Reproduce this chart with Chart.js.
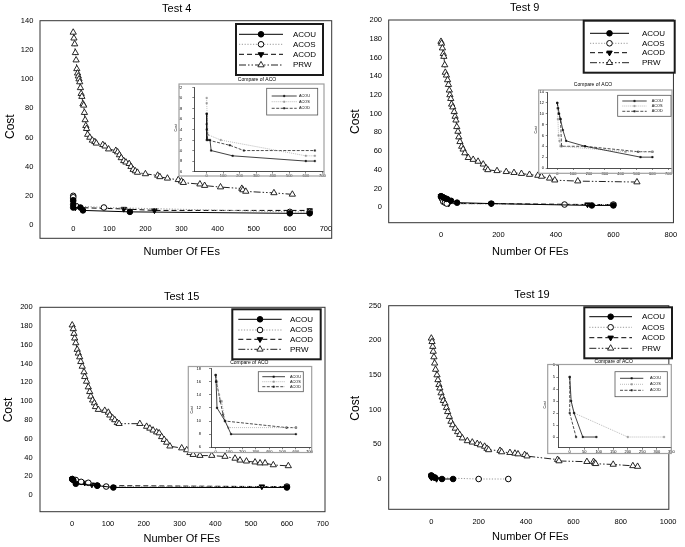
<!DOCTYPE html>
<html><head><meta charset="utf-8">
<script src="https://cdn.jsdelivr.net/npm/chart.js@4.4.0/dist/chart.umd.min.js"></script>
<style>
html,body{margin:0;padding:0;background:#fff}
body{width:685px;height:547px;position:relative;overflow:hidden}
canvas{position:absolute}
</style></head><body>
<canvas id="m4"></canvas><canvas id="m9"></canvas><canvas id="m15"></canvas><canvas id="m19"></canvas>
<canvas id="i4"></canvas><canvas id="i9"></canvas><canvas id="i15"></canvas><canvas id="i19"></canvas>
<script>
// ---------------- DATA ----------------
const seriesNames = ['ACOU','ACOS','ACOD','PRW'];

// Test 4
const prw4 = [[0,132],[2,128],[4,124],[6,118],[8,113],[10,107],[12,104],[14,102],[16,100],[18,98],[20,94],[22,90],[24,88],[27,83],[29,82],[31,77],[33,72],[35,68],[37,66],[40,62],[46,60],[53,58],[60,57],[64,56],[82,55],[88,54],[98,52],[118,51],[123,50],[128,48],[133,46],[140,44],[146,43],[155,42],[160,40],[166,38],[172,37],[178,36],[200,35],[234,34],[240,33],[261,32],[291,31],[300,30],[305,29],[351,28],[364,27],[408,26],[467,25],[470,24],[478,23],[556,22],[607,21]];
const acou4 = [[0,17],[0,14],[0,12],[20,12],[27,10],[157,9],[600,8],[655,8]];
const acos4 = [[0,20],[0,19],[8,13],[85,12],[600,9],[655,9]];
const acod4 = [[0,17],[0,15],[6,12],[140,11],[225,10],[655,10]];

// Test 9
const prw9 = [[0,177],[2,175],[5,170],[8,164],[10,161],[13,152],[15,144],[19,141],[23,136],[26,131],[29,125],[31,120],[34,116],[37,110],[41,107],[46,102],[49,97],[52,93],[55,86],[59,81],[62,75],[66,70],[72,65],[77,62],[83,58],[95,53],[112,51],[129,49],[147,46],[157,42],[163,40],[195,39],[227,38],[254,37],[280,36],[308,35],[337,34],[350,33],[378,31],[396,29],[476,28],[682,27]];
const acou9 = [[0,12],[6,11],[12,10],[20,9],[35,7],[56,5],[175,4],[525,2],[600,2]];
const acos9 = [[0,11],[4,9],[8,6],[14,5],[20,4],[430,3],[600,3]];
const acod9 = [[0,12],[8,10],[20,9],[27,4],[175,4],[510,3],[600,3]];

// Test 15
const prw15 = [[0,181],[3,177],[5,172],[7,167],[10,162],[14,155],[17,151],[21,147],[24,142],[28,137],[33,131],[35,126],[40,121],[45,115],[49,110],[52,105],[57,101],[62,98],[65,94],[73,91],[91,90],[101,88],[105,85],[113,82],[119,80],[126,77],[131,76],[189,76],[208,73],[217,71],[226,69],[236,67],[243,66],[250,62],[257,59],[264,56],[273,52],[306,50],[320,48],[329,45],[338,43],[357,42],[390,42],[427,41],[455,39],[469,37],[487,36],[511,35],[525,34],[539,34],[562,32],[604,31]];
const acou15 = [[0,17],[3,16],[10,12],[70,10],[115,8],[600,8]];
const acos15 = [[0,17],[10,16],[25,14],[45,13],[70,10],[95,9],[600,9]];
const acod15 = [[0,17],[5,16],[35,13],[55,11],[70,10],[530,9],[600,9]];

// Test 19
const prw19 = [[0,203],[3,198],[6,191],[8,184],[11,176],[14,167],[18,158],[24,150],[28,143],[32,136],[36,131],[41,124],[46,118],[51,113],[58,109],[64,103],[69,97],[76,90],[83,83],[90,78],[101,73],[111,68],[120,64],[131,59],[152,55],[173,53],[194,51],[207,49],[225,47],[235,44],[242,42],[290,41],[297,39],[332,38],[353,37],[366,36],[394,35],[404,33],[533,28],[539,26],[657,25],[685,25],[690,23],[694,22],[768,21],[851,19],[871,18]];
const acou19 = [[0,5],[5,3],[15,2],[45,0],[92,0]];
const acos19 = [[0,5],[2,3],[15,2],[200,0],[325,0]];
const acod19 = [[0,5],[0,2],[22,0]];

// Tick labels
const xTicks4 = [0,100,200,300,400,500,600,700];
const yTicks4 = [0,20,40,60,80,100,120,140];
const xTicks9 = [0,200,400,600,800];
const yTicks9 = [0,20,40,60,80,100,120,140,160,180,200];
const xTicks15 = [0,100,200,300,400,500,600,700];
const yTicks15 = [0,20,40,60,80,100,120,140,160,180,200];
const xTicks19 = [0,200,400,600,800,1000];
const yTicks19 = [0,50,100,150,200,250];
const ixTicks4 = [0,100,200,300,400,500,600,700];
const iyTicks4 = [6,8,10,12,14,16,18,20,22];
const ixTicks9 = [0,100,200,300,400,500,600,700];
const iyTicks9 = [0,2,4,6,8,10,12,14];
const ixTicks15 = [0,100,200,300,400,500,600,700];
const iyTicks15 = [6,8,10,12,14,16,18];
const ixTicks19 = [0,50,100,150,200,250,300,350];
const iyTicks19 = [0,1,2,3,4,5,6];

// ---------------- STYLES ----------------
const FONT = '"Liberation Sans", Arial, Helvetica, sans-serif';
Chart.defaults.font.family = FONT;
Chart.defaults.color = '#000';

const MS = {
  ACOU:{borderColor:'#000',borderWidth:1,borderDash:[],pointStyle:'circle',pointRadius:2.8,pointBackgroundColor:'#000',pointBorderColor:'#000',pointBorderWidth:1},
  ACOS:{borderColor:'#9a9a9a',borderWidth:1,borderDash:[1.2,1.6],pointStyle:'circle',pointRadius:2.8,pointBackgroundColor:'#fff',pointBorderColor:'#000',pointBorderWidth:1},
  ACOD:{borderColor:'#000',borderWidth:1,borderDash:[5,3],pointStyle:'triangle',pointRotation:180,pointRadius:3.2,pointBackgroundColor:'#000',pointBorderColor:'#000',pointBorderWidth:1},
  PRW:{borderColor:'#222',borderWidth:1,borderDash:[7,2,1.5,2,1.5,2],pointStyle:'triangle',pointRotation:0,pointRadius:3.6,pointBackgroundColor:'#fff',pointBorderColor:'#111',pointBorderWidth:0.9}
};
const IS = {
  ACOU:{borderColor:'#111',borderWidth:0.8,borderDash:[],pointStyle:'rect',pointRadius:1.1,pointBackgroundColor:'#111',pointBorderColor:'#111',pointBorderWidth:0.4},
  ACOS:{borderColor:'#aaa',borderWidth:0.8,borderDash:[1,1],pointStyle:'rect',pointRadius:1.1,pointBackgroundColor:'#999',pointBorderColor:'#999',pointBorderWidth:0.4},
  ACOD:{borderColor:'#222',borderWidth:0.8,borderDash:[3,1.5],pointStyle:'rect',pointRadius:1.1,pointBackgroundColor:'#222',pointBorderColor:'#222',pointBorderWidth:0.4}
};

function ds(name, arr, st){
  return Object.assign({label:name, data:arr.map(p=>({x:p[0],y:p[1]})), showLine:true, fill:false, tension:0}, st[name]);
}
function place(el, cv){
  el.width = cv.w; el.height = cv.h;
  el.style.left = cv.x+'px'; el.style.top = cv.y+'px';
}
function txtPl(items, cv){
  return {id:'txt', afterDraw(chart){
    const ctx = chart.ctx;
    items.forEach(it=>{
      ctx.save();
      ctx.font = (it.w||'normal')+' '+it.s+'px '+FONT;
      ctx.fillStyle = it.c||'#000';
      ctx.textAlign = 'center'; ctx.textBaseline = 'middle';
      ctx.translate(it.x-cv.x, it.y-cv.y);
      if (it.r) ctx.rotate(it.r*Math.PI/180);
      ctx.fillText(it.t,0,0);
      ctx.restore();
    });
  }};
}
function framePl(cv, F, color, lw, fillBg){
  return {id:'frame',
    beforeDraw(chart){
      if(!F || !fillBg) return;
      const ctx=chart.ctx; ctx.save(); ctx.fillStyle='#fff';
      ctx.fillRect(F[0]-cv.x,F[1]-cv.y,F[2]-F[0],F[3]-F[1]); ctx.restore();
    },
    afterDraw(chart){
      const ctx=chart.ctx; ctx.save(); ctx.strokeStyle=color; ctx.lineWidth=lw;
      if(F){ ctx.strokeRect(F[0]-cv.x,F[1]-cv.y,F[2]-F[0],F[3]-F[1]); }
      else { const a=chart.chartArea; ctx.strokeRect(a.left,a.top,a.right-a.left,a.bottom-a.top); }
      ctx.restore();
    }};
}
function legPl(cv, L, fs, bc, bw, scale){
  return {id:'leg', afterDraw(chart){
    const ctx=chart.ctx, ox=cv.x, oy=cv.y, b=L.box;
    ctx.save();
    ctx.fillStyle='#fff'; ctx.fillRect(b[0]-ox,b[1]-oy,b[2]-b[0],b[3]-b[1]);
    ctx.strokeStyle=bc; ctx.lineWidth=bw; ctx.strokeRect(b[0]-ox,b[1]-oy,b[2]-b[0],b[3]-b[1]);
    chart.data.datasets.forEach((d,i)=>{
      const y=L.rows[i]-oy, x0=L.line[0]-ox, x1=L.line[1]-ox;
      ctx.save();
      ctx.strokeStyle=d.borderColor; ctx.lineWidth=d.borderWidth; ctx.setLineDash(d.borderDash||[]);
      ctx.beginPath(); ctx.moveTo(x0,y); ctx.lineTo(x1,y); ctx.stroke();
      ctx.setLineDash([]);
      ctx.fillStyle=d.pointBackgroundColor; ctx.strokeStyle=d.pointBorderColor; ctx.lineWidth=d.pointBorderWidth;
      Chart.helpers.drawPoint(ctx,{pointStyle:d.pointStyle,rotation:d.pointRotation||0,radius:d.pointRadius*scale,borderWidth:d.pointBorderWidth},(x0+x1)/2,y);
      ctx.restore();
      ctx.fillStyle='#000'; ctx.font=fs+'px '+FONT; ctx.textAlign='left'; ctx.textBaseline='middle';
      ctx.fillText(d.label, L.textX-ox, y);
    });
    ctx.restore();
  }};
}
function axis(range, ticks, fit, horiz, o){
  return {type:'linear', min:range[0], max:range[1],
    afterBuildTicks:s=>{ s.ticks = ticks.map(v=>({value:v})); },
    afterFit:s=>{ if(horiz) s.height=fit; else s.width=fit; },
    grid:{display:o.tick>0, drawOnChartArea:false, drawTicks:o.tick>0, tickLength:o.tick, color:'#333', lineWidth:0.6},
    border:{display:!!o.border, color:'#222', width:0.8},
    ticks:{padding:o.pad, autoSkip:false, maxRotation:0, minRotation:0, color:'#000',
      font:{size:o.fs, family:FONT, lineHeight:1.2}, callback:v=>String(v)}
  };
}

function mainChart(id, cv, P, F, xr, yr, xt, yt, arrs, L, texts, xpad, ypad){
  const el=document.getElementById(id); place(el,cv);
  const YW=30, XH=20;
  return new Chart(el,{
    type:'scatter',
    data:{datasets:seriesNames.map((n,i)=>ds(n,arrs[i],MS))},
    options:{responsive:false, animation:false, events:[],
      layout:{padding:{left:P[0]-cv.x-YW, top:P[1]-cv.y, right:cv.x+cv.w-P[2], bottom:cv.y+cv.h-P[3]-XH}},
      plugins:{legend:{display:false}, tooltip:{enabled:false}, title:{display:false}},
      scales:{
        x:axis(xr,xt,XH,true,{tick:0,pad:xpad,fs:7.5}),
        y:axis(yr,yt,YW,false,{tick:0,pad:ypad,fs:7.5})
      }},
    plugins:[framePl(cv,F,'#333',1,false), legPl(cv,L,8,'#1a1a1a',2,1), txtPl(texts,cv)]
  });
}
function insetChart(id, F, P, xr, yr, xt, yt, arrs, L, title, cost, xpad, ypad){
  const el=document.getElementById(id);
  const cv={x:Math.floor(Math.min(F[0],cost[0]-3)-3), y:Math.floor(title[1]-5)};
  cv.w=Math.ceil(F[2]+4-cv.x); cv.h=Math.ceil(Math.max(F[3],P[3]+8)+4-cv.y);
  place(el,cv);
  const YW=Math.max(P[0]-F[0],4), XH=8;
  return new Chart(el,{
    type:'scatter',
    data:{datasets:seriesNames.slice(0,3).map((n,i)=>ds(n,arrs[i],IS))},
    options:{responsive:false, animation:false, events:[],
      layout:{padding:{left:P[0]-cv.x-YW, top:P[1]-cv.y, right:cv.x+cv.w-P[2], bottom:cv.y+cv.h-P[3]-XH}},
      plugins:{legend:{display:false}, tooltip:{enabled:false}, title:{display:false}},
      scales:{
        x:axis(xr,xt,XH,true,{tick:2,pad:xpad,fs:4,border:true}),
        y:axis(yr,yt,YW,false,{tick:2,pad:ypad,fs:4,border:true})
      }},
    plugins:[framePl(cv,F,'#a0a0a0',1.2,true), legPl(cv,L,3.8,'#555',0.8,1), txtPl([
      {t:'Compare of ACO', x:title[0], y:title[1], s:5},
      {t:'Cost', x:cost[0], y:cost[1], s:3.5, r:-90}], cv)]
  });
}

// ---------------- MAIN CHARTS ----------------
// Test 4: x axis crosses at y=0 inside the frame; frame extends below it
mainChart('m4',{x:0,y:0,w:342,h:270},[40,20.7,331.7,225.5],[40,20.7,331.7,238.3],[-92,716],[-0.34,140],xTicks4,yTicks4,
  [acou4,acos4,acod4,prw4],
  {box:[236,24,323,75],rows:[34.3,44.3,54.3,65],line:[239,283],textX:293},
  [{t:'Test 4',x:176.7,y:8.5,s:11},{t:'Number Of FEs',x:181.7,y:252.3,s:11},{t:'Cost',x:10.5,y:126.7,s:12,r:-90}],
  -0.7, 6.7);
mainChart('m9',{x:342,y:0,w:343,h:270},[388.7,20,674.7,222.7],null,[-182,809],[-16.4,200],xTicks9,yTicks9,
  [acou9,acos9,acod9,prw9],
  {box:[583.7,20.7,674.7,72.7],rows:[33.3,43.3,52.7,62.7],line:[590,629],textX:642},
  [{t:'Test 9',x:524.7,y:7.5,s:11},{t:'Number Of FEs',x:530.3,y:252.3,s:11},{t:'Cost',x:355.5,y:121.7,s:12,r:-90}],
  7.8, 6.7);
mainChart('m15',{x:0,y:270,w:342,h:277},[40,307.3,325,511.7],null,[-90,706.5],[-17.8,200],xTicks15,yTicks15,
  [acou15,acos15,acod15,prw15],
  {box:[232.3,309.3,320.7,359.3],rows:[319.3,330,339.3,349.3],line:[238.3,281.7],textX:290},
  [{t:'Test 15',x:181.7,y:297.3,s:11},{t:'Number Of FEs',x:181.7,y:539.3,s:11},{t:'Cost',x:8.5,y:410,s:12,r:-90}],
  7.8, 7.3);
mainChart('m19',{x:342,y:270,w:343,h:277},[388.7,305.7,673.7,509.3],null,[-180,1003],[-43.7,250],xTicks19,yTicks19,
  [acou19,acos19,acod19,prw19],
  {box:[584.3,307.3,672,358.3],rows:[316.7,327.3,337.7,348.3],line:[589.3,632],textX:642},
  [{t:'Test 19',x:532,y:295,s:11},{t:'Number Of FEs',x:530.3,y:537.3,s:11},{t:'Cost',x:355.5,y:408.3,s:12,r:-90}],
  8.5, 7.4);

// ---------------- INSETS ----------------
insetChart('i4',[179,84,324,176],[194.3,86,324,172],[-75,708],[6,22],ixTicks4,iyTicks4,
  [acou4,acos4,acod4],
  {box:[266.7,88.3,317.7,115],rows:[96,101.7,108.3],line:[271.7,296.7],textX:299},
  [257,80],[176.5,128],0.3,10);
insetChart('i9',[538.7,90,672,173.3],[547.7,92,671.7,168],[-60.5,721],[0,14],ixTicks9,iyTicks9,
  [acou9,acos9,acod9],
  {box:[617.7,95.3,671,116.3],rows:[101,106,111.3],line:[622.3,646.7],textX:651.7},
  [593,84.5],[536.5,130],1,1.7);
insetChart('i15',[188.3,366.5,311.7,452.5],[211,368.5,311,447.3],[-35,712.7],[6,18],ixTicks15,iyTicks15,
  [acou15,acos15,acod15],
  {box:[258.3,371.7,303.3,391.7],rows:[376.7,381.7,386.7],line:[262.3,285],textX:290},
  [249.3,363],[191.7,410],0.5,8);
insetChart('i19',[547.7,364.5,671.3,453.5],[558.3,365.5,671,447.7],[-39.3,349],[-0.89,5.96],ixTicks19,iyTicks19,
  [acou19,acos19,acod19],
  {box:[615,371.7,667.3,396.7],rows:[378.3,384.3,390.3],line:[620,643.3],textX:650},
  [613.7,361.5],[545,405],0,1.3);
</script>
</body></html>
